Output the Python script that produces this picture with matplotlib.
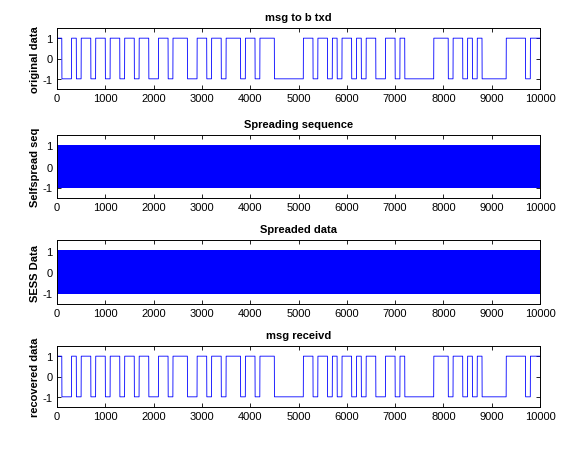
import numpy as np
import matplotlib
matplotlib.use("Agg")
import matplotlib.pyplot as plt

# ---- data ----
msg_bits = [1,0,0,1,0,1,1,0,1,1,
            0,1,1,0,1,1,0,1,1,0,
            0,1,1,0,1,1,1,0,0,1,
            1,0,1,1,0,1,1,1,0,1,
            1,0,1,1,1,0,0,0,0,0,
            0,1,1,0,1,1,0,1,0,1,
            1,0,1,0,1,1,0,0,1,1,
            0,1,0,0,0,0,0,0,1,1,
            1,0,1,1,0,1,0,1,0,0,
            0,0,0,1,1,1,1,0,1,1]
samples_per_bit = 100
pn_chips = [1,-1,-1,-1,-1,1,-1,1,-1,1,1,1,-1,1,1,-1,-1,-1,1,1,1,1,1,-1,-1,1,1,-1,1,-1,-1]
titles = ["msg to b txd", "Spreading sequence", "Spreaded data", "msg receivd"]
ylabels = ["original data", "Selfspread seq", "SESS Data", "recovered data"]
xticks = [0,1000,2000,3000,4000,5000,6000,7000,8000,9000,10000]
yticks = [-1, 0, 1]

msg = np.repeat(np.array(msg_bits) * 2 - 1, samples_per_bit)
n = len(msg)
pn = np.resize(np.array(pn_chips), n)
spread = msg * pn
recovered = spread * pn
t = np.arange(n)
series = [msg, pn, spread, recovered]

plt.rcParams['font.family'] = ['Liberation Sans', 'DejaVu Sans']
fig = plt.figure(figsize=(5.64, 4.52), dpi=100)

W, H = 564, 452
left, right = 57, 540
tops = [29, 136, 241, 347]
bottoms = [90, 199, 305, 408]

for i in range(4):
    ax = fig.add_axes([left / W, 1 - bottoms[i] / H, (right - left) / W, (bottoms[i] - tops[i]) / H])
    lw = 0.6 if i in (0, 3) else 0.5
    ax.plot(t, series[i], color=(0, 0, 1), lw=lw)
    ax.set_xlim(0, 10000)
    ax.set_ylim(-1.5, 1.5)
    ax.set_xticks(xticks)
    ax.set_yticks(yticks)
    ax.set_xticklabels([str(v) for v in xticks], fontsize=8)
    ax.set_yticklabels([str(v) for v in yticks], fontsize=8)
    ax.tick_params(direction='in', top=True, right=True, length=3, width=0.6, pad=3)
    for s in ax.spines.values():
        s.set_linewidth(0.7)
    ax.set_title(titles[i], fontsize=8, fontweight='bold', pad=6)
    ax.set_ylabel(ylabels[i], fontsize=8, fontweight='bold', labelpad=2)

fig.savefig("out.png", dpi=100, facecolor='white')
